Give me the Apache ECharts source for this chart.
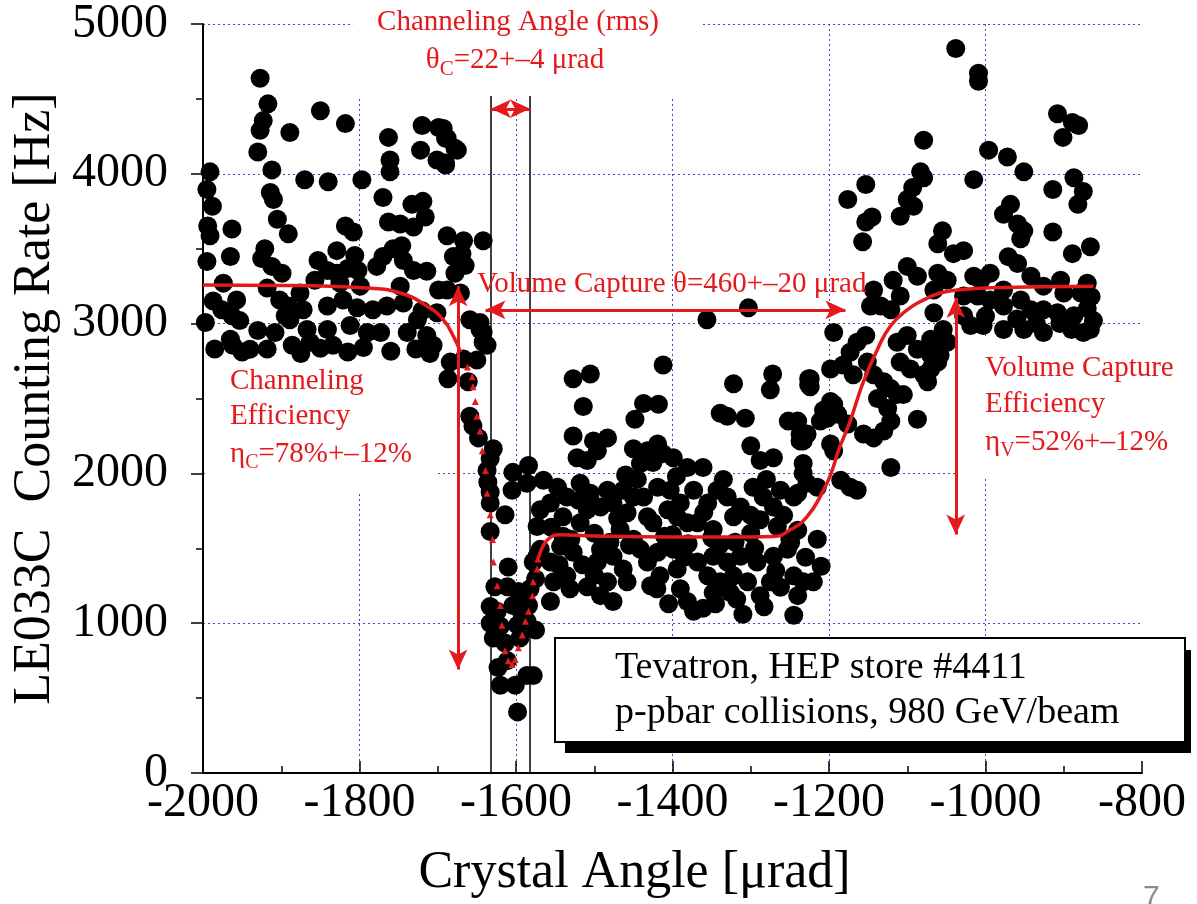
<!DOCTYPE html>
<html>
<head>
<meta charset="utf-8">
<script src="https://cdn.jsdelivr.net/npm/echarts@6/dist/echarts.min.js"></script>
<style>
  html, body { margin: 0; padding: 0; background: #fff; }
  #chart { width: 1197px; height: 904px; }
</style>
</head>
<body>
<div id="chart"></div>
<script>
// measured points [crystal angle, rate]
const dots = [
  // left plateau
  [-1927,4638],[-1917,4467],[-1923,4355],[-1927,4290],[-1889,4276],[-1850,4421],[-1818,4335],[-1930,4145],[-1912,4026],[-1991,4013],
  [-1870,3960],[-1840,3947],[-1797,3960],[-1763,4243],[-1761,4092],[-1761,4013],[-1720,4322],[-1699,4309],[-1690,4237],[-1675,4158],
  [-1722,4158],[-1701,4092],[-1690,4072],[-1995,3895],[-1988,3783],[-1914,3875],[-1910,3829],[-1770,3842],[-1733,3796],[-1719,3816],
  [-1905,3697],[-1891,3599],[-1994,3651],[-1991,3586],[-1963,3632],[-1818,3651],[-1808,3612],[-1763,3678],[-1748,3665],[-1731,3645],
  [-1716,3711],[-1688,3586],[-1667,3553],[-1642,3553],[-1921,3500],[-1829,3487],[-1806,3454],[-1757,3500],[-1746,3520],[-1995,3415],
  [-1965,3448],[-1925,3434],[-1912,3382],[-1899,3336],[-1853,3421],[-1841,3355],[-1829,3336],[-1815,3368],[-1802,3355],[-1778,3382],
  [-1770,3448],[-1744,3421],[-1731,3355],[-1714,3349],[-1680,3448],[-1669,3467],[-1665,3388],[-1678,3336],
  [-1974,3270],[-1918,3237],[-1876,3204],[-1857,3289],[-1825,3270],[-1799,3250],[-1748,3250],[-1699,3224],
  [-1987,3151],[-1957,3158],[-1976,3092],[-1963,3053],[-1953,3020],[-1902,3158],[-1891,3118],[-1895,3053],[-1872,3092],[-1841,3118],
  [-1821,3158],[-1803,3105],[-1783,3092],[-1765,3118],[-1744,3138],[-1720,3086],[-1701,3072],
  [-1997,3007],[-1965,2895],[-1962,2855],[-1940,2829],[-1930,2954],[-1908,2941],[-1889,3026],[-1886,2855],[-1867,2961],[-1863,2875],
  [-1841,2961],[-1834,2855],[-1812,2987],[-1790,2941],[-1773,2941],[-1739,2941],[-1726,3026],[-1714,2921],[-1706,2855],[-1659,3026],
  [-1646,2961],[-1642,2875],[-1693,4302],[-1688,4237],[-1678,4171],[-1690,4059],[-1688,3224],[-1671,3204],[-1646,3007],[-1642,2941],
  [-1637,2855],[-1985,2830],[-1950,2810],[-1918,2830],[-1875,2800],[-1850,2835],[-1815,2810],[-1795,2840],[-1760,2815],[-1728,2830],
  [-1710,2800],
  // channeling dip
  [-1684,2743],[-1667,2763],[-1650,2757],[-1687,2632],[-1661,2612],[-1659,2382],[-1655,2316],[-1648,2237],[-1629,2164],[-1633,2099],
  [-1637,2020],[-1636,1941],[-1633,1875],[-1633,1803],[-1604,2007],[-1584,2053],[-1586,1934],[-1605,1888],[-1614,1724],[-1633,1612],
  [-1610,1375],[-1627,1243],[-1611,1243],[-1597,1211],[-1588,1178],[-1633,1112],[-1624,1079],[-1633,1000],[-1620,980],[-1604,1118],
  [-1592,1053],[-1598,987],[-1584,1118],[-1586,1013],[-1575,954],[-1629,901],[-1614,868],[-1595,901],[-1623,704],[-1611,750],
  [-1586,651],[-1578,651],[-1620,586],[-1601,586],[-1598,408],[-1582,1230],[-1575,1296],[-1578,1408],[-1573,1447],
  // volume reflection region
  [-1527,2632],[-1505,2664],[-1412,2724],[-1514,2447],[-1437,2467],[-1418,2461],[-1448,2362],[-1322,2599],[-1272,2664],[-1275,2559],
  [-1226,2632],[-1224,2579],[-1339,2401],[-1330,2382],[-1307,2368],[-1252,2349],[-1527,2250],[-1356,3026],[-1303,3105],[-1194,2941],
  [-1501,2217],[-1483,2237],[-1496,2151],[-1522,2105],[-1509,2086],[-1450,2164],[-1432,2151],[-1419,2197],[-1412,2132],[-1399,2105],
  [-1441,2066],[-1425,2072],[-1381,2040],[-1361,2040],[-1300,2184],[-1288,2086],[-1271,2105],[-1237,2217],[-1228,2263],[-1202,2368],
  [-1194,2461],
  [-1565,1954],[-1547,1908],[-1535,1842],[-1556,1803],[-1569,1757],[-1573,1645],[-1518,1934],[-1505,1868],[-1483,1888],[-1492,1776],
  [-1509,1757],[-1476,1803],[-1463,1888],[-1450,1842],[-1437,1842],[-1458,1737],[-1432,1711],[-1419,1908],[-1403,1888],[-1390,1803],
  [-1406,1757],[-1394,1711],[-1373,1888],[-1355,1803],[-1343,1888],[-1330,1842],[-1313,1776],[-1297,1908],[-1284,1842],[-1271,1776],
  [-1262,1888],[-1245,1842],[-1228,1934],[-1322,1711],[-1288,1691],[-1266,1645],[-1381,1671],[-1425,1671],[-1518,1671],[-1540,1711],
  [-1467,1625],[-1368,1671],[-1348,1625],
  [-1569,1493],[-1556,1408],[-1543,1513],[-1527,1474],[-1535,1316],[-1552,1276],[-1556,1145],[-1531,1230],[-1509,1243],[-1496,1408],
  [-1492,1493],[-1476,1447],[-1463,1362],[-1458,1276],[-1483,1276],[-1476,1145],[-1492,1184],[-1441,1493],[-1432,1408],[-1419,1474],
  [-1416,1316],[-1428,1250],[-1399,1493],[-1394,1362],[-1390,1230],[-1381,1145],[-1373,1079],[-1361,1099],[-1368,1408],[-1355,1316],
  [-1348,1447],[-1339,1276],[-1330,1408],[-1322,1316],[-1313,1447],[-1304,1276],[-1292,1408],[-1288,1184],[-1275,1276],[-1271,1447],
  [-1253,1493],[-1245,1316],[-1240,1184],[-1233,1276],[-1220,1276],[-1245,1053],[-1249,1539],[-1348,1204],[-1326,1204],
  [-1540,1580],[-1500,1600],[-1450,1560],[-1400,1590],[-1350,1570],[-1300,1600],[-1250,1560],[-1480,1540],[-1380,1530],[-1320,1540],
  [-1555,1640],[-1530,1560],[-1515,1390],[-1500,1320],[-1470,1700],[-1455,1520],[-1445,1960],[-1410,1580],[-1395,1980],[-1385,1440],
  [-1360,1740],[-1340,1520],[-1335,1960],[-1318,1160],[-1300,1720],[-1295,1500],[-1280,1960],[-1268,1350],[-1258,1720],[-1240,1620],
  [-1230,1440],[-1215,1560],[-1210,1380],[-1520,1820],[-1545,1390],[-1460,1990],[-1420,1230],[-1405,1130],[-1345,1130],[-1310,1060],
  [-1283,1110],[-1262,1240],
  // right plateau
  [-1038,4836],[-1009,4671],[-1009,4618],[-908,4401],[-889,4342],[-881,4322],[-901,4243],[-1079,4224],[-996,4158],[-972,4112],
  [-951,4013],[-1015,3961],[-1083,4013],[-1079,3974],[-1093,3908],[-1100,3829],[-1092,3783],[-1109,3717],[-1153,3928],[-1176,3829],
  [-1145,3711],[-1153,3678],[-1157,3546],[-887,3974],[-875,3882],[-882,3796],[-914,3895],[-914,3612],[-968,3796],[-977,3730],
  [-959,3665],[-951,3619],[-955,3566],[-1055,3619],[-1061,3533],[-1041,3467],[-1028,3487],[-866,3513],[-889,3467],
  [-971,3447],[-959,3401],[-942,3316],[-926,3250],[-904,3290],[-870,3270],[-878,3204],[-900,3204],
  [-1100,3382],[-1118,3290],[-1143,3224],[-1121,3092],[-1134,3118],[-1147,3118],[-1109,3184],[-1087,3316],[-1061,3336],[-1049,3290],
  [-1066,3224],[-1015,3316],[-1006,3290],[-994,3336],[-1028,3184],[-1010,3184],[-994,3158],[-977,3118],[-977,3224],[-955,3158],
  [-942,3092],[-926,3092],[-908,3072],[-887,3053],[-866,2961],[-875,2941],[-926,2941],[-951,2961],[-977,2961],[-1003,2987],
  [-1019,2987],[-1028,3053],[-1066,3072],[-1054,2961],[-1070,2895],[-1100,2921],[-1113,2875],[-1087,2829],[-1109,2743],[-1096,2697],
  [-1070,2790],[-1061,2743],[-1054,2875],[-862,3020],[-870,3100],[-865,3180],[-1000,3050],[-960,3030],[-935,3000],[-905,3000],[-890,2960],
  // rising edge
  [-1164,2875],[-1153,2921],[-1173,2809],[-1182,2724],[-1198,2697],[-1224,2632],[-1226,2592],[-1169,2658],[-1151,2743],[-1143,2658],
  [-1130,2612],[-1121,2566],[-1113,2526],[-1105,2526],[-1138,2500],[-1125,2434],[-1121,2349],[-1130,2283],[-1143,2237],[-1156,2263],
  [-1176,2329],[-1189,2395],[-1198,2480],[-1207,2421],[-1211,2349],[-1240,2349],[-1237,2263],[-1233,2217],[-1198,2197],[-1194,2151],
  [-1087,2362],[-1121,2040],[-1233,2066],[-1233,2000],[-1185,1954],[-1173,1908],[-1164,1888],[-1215,1908],[-1240,1868],[-1079,2658],
  [-1070,2697],[-1074,2612],[-1058,2790],[-1049,2875]
];

// fitted curve
const fitLeft = [[-2000,3257],[-1900,3255],[-1790,3237],[-1748,3204],[-1714,3118],[-1693,3026],[-1678,2895],[-1671,2809]];
const fitDip = [
  [-1662,2711],[-1656,2645],[-1655,2579],[-1652,2480],[-1650,2382],[-1646,2283],[-1643,2151],[-1639,2020],[-1637,1868],
  [-1633,1724],[-1630,1559],[-1629,1408],[-1624,1250],[-1620,1118],[-1618,987],[-1614,816],[-1610,750],[-1605,724],
  [-1601,757],[-1597,836],[-1592,921],[-1588,1013],[-1584,1079],[-1579,1184],[-1578,1276],[-1573,1362],[-1572,1428]
];
const fitRight = [
  [-1572,1428],[-1566,1510],[-1558,1565],[-1545,1590],[-1500,1582],[-1400,1576],[-1300,1576],[-1271,1579],[-1249,1625],
  [-1228,1711],[-1207,1888],[-1196,2020],[-1188,2151],[-1173,2349],[-1156,2612],[-1138,2829],[-1121,2987],[-1100,3092],
  [-1079,3158],[-1058,3204],[-1036,3224],[-994,3240],[-862,3250]
];

// annotation geometry (data units)
const blackLines = [[-1632, 0, 4520], [-1582, 0, 4520]];
const redArrows = [
  [[-1632,4434],[-1582,4434]],
  [[-1639,3092],[-1179,3092]],
  [[-1674,3250],[-1674,691]],
  [[-1038,3171],[-1038,1592]]
];
const whiteBoxes = [
  [[-1996,1880],[-1701,2822]],
  [[-1036,1967],[-800,2908]],
  [[-1808,4520],[-1364,5000]]
];

const RED = '#e3191c';
const SERIF = '"Liberation Serif", "Times New Roman", serif';
const GRID_LINE = { type: [2, 3], color: '#4646cc', width: 1 };

const chart = echarts.init(document.getElementById('chart'));

chart.setOption({
  animation: false,
  backgroundColor: '#fff',
  grid: { left: 203, right: 55, top: 17, bottom: 127 },
  xAxis: {
    type: 'value', min: -2000, max: -800, interval: 200,
    name: 'Crystal Angle [\u03bcrad]', nameLocation: 'middle', nameGap: 74,
    nameTextStyle: { fontFamily: SERIF, fontSize: 52, color: '#000', padding: [0, 76, 0, 0] },
    axisLine: { lineStyle: { color: '#000', width: 2 } },
    axisTick: { inside: true, length: 12, lineStyle: { color: '#000', width: 1.5 } },
    minorTick: { show: true, splitNumber: 2, length: 7, lineStyle: { color: '#000', width: 1.5 } },
    axisLabel: { fontFamily: SERIF, fontSize: 48, color: '#000', margin: 6, formatter: v => String(v) },
    splitLine: { show: true, showMaxLine: false, lineStyle: GRID_LINE }
  },
  yAxis: {
    type: 'value', min: 0, max: 5000, interval: 1000,
    name: 'LE033C  Counting Rate [Hz]', nameLocation: 'middle', nameGap: 142,
    nameTextStyle: { fontFamily: SERIF, fontSize: 52, color: '#000' },
    axisLine: { show: true, lineStyle: { color: '#000', width: 2 } },
    axisTick: { show: true, length: 12, lineStyle: { color: '#000', width: 1.5 } },
    minorTick: { show: true, splitNumber: 2, length: 7, lineStyle: { color: '#000', width: 1.5 } },
    axisLabel: { fontFamily: SERIF, fontSize: 48, color: '#000', margin: 35, formatter: v => String(v) },
    splitLine: { show: true, lineStyle: GRID_LINE }
  },
  series: [
    {
      name: 'rate', type: 'scatter', data: dots, symbolSize: 19,
      itemStyle: { color: '#000', opacity: 1 }, z: 2, silent: true
    },
    {
      name: 'labelBg', type: 'line', data: [], z: 3, silent: true,
      markArea: {
        silent: true,
        itemStyle: { color: '#fff', opacity: 1 },
        data: whiteBoxes.map(b => [{ coord: b[0] }, { coord: b[1] }])
      }
    },
    {
      name: 'fitLeft', type: 'line', data: fitLeft, smooth: true, showSymbol: false,
      lineStyle: { color: RED, width: 3.5 }, z: 5, silent: true
    },
    {
      name: 'fitDip', type: 'scatter', data: fitDip, symbol: 'triangle', symbolSize: 7,
      itemStyle: { color: RED, opacity: 1 }, z: 5, silent: true
    },
    {
      name: 'fitRight', type: 'line', data: fitRight, smooth: true, showSymbol: false,
      lineStyle: { color: RED, width: 3.5 }, z: 5, silent: true
    },
    {
      name: 'lines', type: 'line', data: [], z: 4, silent: true,
      markLine: {
        silent: true, symbol: 'none', label: { show: false },
        lineStyle: { color: '#000', width: 1.5, type: 'solid' },
        data: blackLines.map(l => [{ coord: [l[0], l[1]] }, { coord: [l[0], l[2]] }])
      }
    },
    {
      name: 'arrows', type: 'line', data: [], z: 6, silent: true,
      markLine: {
        silent: true, symbol: ['arrow', 'arrow'], symbolSize: [14, 20], label: { show: false },
        lineStyle: { color: RED, width: 3, type: 'solid' },
        data: redArrows.map(a => [{ coord: a[0] }, { coord: a[1] }])
      }
    }
  ],
  graphic: [
    { type: 'text', z: 100, style: { text: 'Channeling Angle (rms)', x: 518, y: 22, textAlign: 'center', textVerticalAlign: 'middle', fill: RED, font: '29px ' + SERIF } },
    { type: 'text', z: 100, style: {
        text: '{t|\u03b8}{s|C}{t|=22+\u20134 \u03bcrad}', x: 515, y: 60, textAlign: 'center', textVerticalAlign: 'middle',
        rich: { t: { fill: RED, font: '29px ' + SERIF }, s: { fill: RED, font: '21px ' + SERIF, padding: [18, 0, 0, 0] } }
    } },
    { type: 'text', z: 100, style: { text: 'Volume Capture \u03b8=460+\u201320 \u03bcrad', x: 477, y: 284, textAlign: 'left', textVerticalAlign: 'middle', fill: RED, font: '29px ' + SERIF } },
    { type: 'text', z: 100, style: { text: 'Channeling', x: 230, y: 381, textVerticalAlign: 'middle', fill: RED, font: '29px ' + SERIF } },
    { type: 'text', z: 100, style: { text: 'Efficiency', x: 230, y: 416, textVerticalAlign: 'middle', fill: RED, font: '29px ' + SERIF } },
    { type: 'text', z: 100, style: {
        text: '{t|\u03b7}{s|C}{t|=78%+\u201312%}', x: 230, y: 454, textVerticalAlign: 'middle',
        rich: { t: { fill: RED, font: '29px ' + SERIF }, s: { fill: RED, font: '20px ' + SERIF, padding: [18, 0, 0, 0] } }
    } },
    { type: 'text', z: 100, style: { text: 'Volume Capture', x: 985, y: 368, textVerticalAlign: 'middle', fill: RED, font: '29px ' + SERIF } },
    { type: 'text', z: 100, style: { text: 'Efficiency', x: 985, y: 404, textVerticalAlign: 'middle', fill: RED, font: '29px ' + SERIF } },
    { type: 'text', z: 100, style: {
        text: '{t|\u03b7}{s|V}{t|=52%+\u201312%}', x: 985, y: 442, textVerticalAlign: 'middle',
        rich: { t: { fill: RED, font: '29px ' + SERIF }, s: { fill: RED, font: '20px ' + SERIF, padding: [18, 0, 0, 0] } }
    } },
    { type: 'rect', z: 90, shape: { x: 565, y: 650, width: 626, height: 103 }, style: { fill: '#000' } },
    { type: 'rect', z: 91, shape: { x: 555, y: 638, width: 630, height: 104 }, style: { fill: '#fff', stroke: '#000', lineWidth: 2 } },
    { type: 'text', z: 100, style: { text: 'Tevatron, HEP store #4411', x: 615, y: 668, textVerticalAlign: 'middle', fill: '#000', font: '38px ' + SERIF } },
    { type: 'text', z: 100, style: { text: 'p-pbar collisions, 980 GeV/beam', x: 615, y: 713, textVerticalAlign: 'middle', fill: '#000', font: '38px ' + SERIF } },
    { type: 'text', z: 100, style: { text: '7', x: 1143, y: 883, fill: '#8a8a8a', font: '30px "Liberation Sans", sans-serif' } }
  ]
});
</script>
</body>
</html>
